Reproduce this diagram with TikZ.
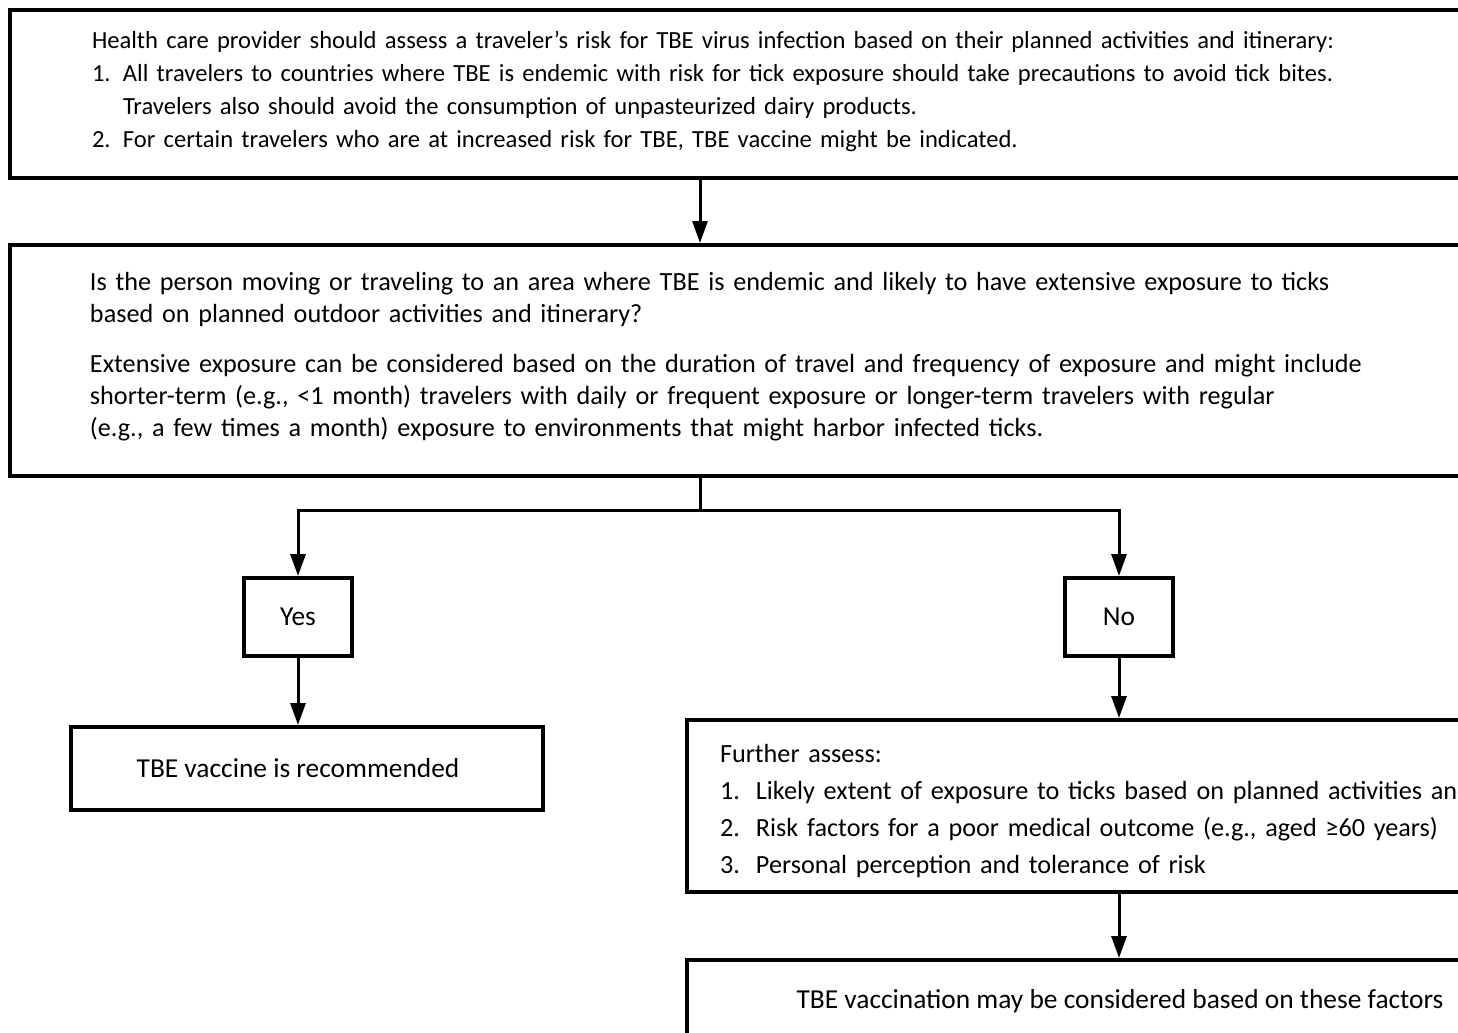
\documentclass[tikz,border=0pt]{standalone}
\usepackage{fontspec}
\setmainfont{Carlito}
\usepackage{tikz}
\usetikzlibrary{arrows.meta, positioning, calc}

\begin{document}
\begin{tikzpicture}[
                x=0.5pt, y=-0.5pt,
                box/.style={rectangle, draw=black, line width=2pt, anchor=north west, inner ysep=0pt, font=\fontsize{13.7}{16.5}\selectfont},
                textbox/.style={box, align=left, inner xsep=#1},
                choice/.style={box, minimum width=54pt, minimum height=39pt},
                arrow/.style={line width=1.5pt, -{Triangle[length=11pt, width=7.5pt]}},
                line/.style={line width=1.5pt}
            ]%
            \useasboundingbox (0,0) rectangle (1458,1033);
            \clip (0,0) rectangle (1458,1033);
            %
            % Evaluacion inicial
            \node[textbox=41pt, text width=654pt, minimum height=84pt, font=\fontsize{12.3}{16.5}\selectfont] (assess) at (8,8) {%
                Health care provider should assess a traveler’s risk for TBE virus infection based on their planned activities and itinerary:\\
                \makebox[15.5pt][l]{1.}All travelers to countries where TBE is endemic with risk for tick exposure should take precautions to avoid tick bites.\\
                \hspace*{15.5pt}Travelers also should avoid the consumption of unpasteurized dairy products.\\
                \makebox[15.5pt][l]{2.}For certain travelers who are at increased risk for TBE, TBE vaccine might be indicated.\rule[-5pt]{0pt}{1pt}};
            %
            % Pregunta
            \node[textbox=40pt, text width=656pt, minimum height=115.5pt, font=\fontsize{13.1}{16}\selectfont] (question) at (8,243) {%
                Is the person moving or traveling to an area where TBE is endemic and likely to have extensive exposure to ticks\\
                based on planned outdoor activities and itinerary?\\[9pt]
                Extensive exposure can be considered based on the duration of travel and frequency of exposure and might include\\
                shorter-term (e.g., <1 month) travelers with daily or frequent exposure or longer-term travelers with regular\\
                (e.g., a few times a month) exposure to environments that might harbor infected ticks.\rule[-6pt]{0pt}{1pt}};
            %
            % Respuestas
            \node[choice] (yes) at (242,576) {Yes};
            \node[choice] (no) at (1063,576) {No};
            %
            % Resultados
            \node[box, minimum width=236pt, minimum height=41.5pt] (rec) at (69,725) {TBE vaccine is recommended\hspace*{9pt}};
            \node[textbox=16.5pt, text width=533pt, minimum height=86pt, font=\fontsize{13.1}{18.5}\selectfont] (further) at (685,718) {%
                \rule{0pt}{14pt}Further assess:\\
                \makebox[18pt][l]{1.}Likely extent of exposure to ticks based on planned activities and itinerary\\
                \makebox[18pt][l]{2.}Risk factors for a poor medical outcome (e.g., aged ≥60 years)\\
                \makebox[18pt][l]{3.}Personal perception and tolerance of risk};
            \node[box, minimum width=433pt, minimum height=41pt] (final) at (685,958) {TBE vaccination may be considered based on these factors};
            %
            % Conexiones
            \coordinate (split) at (700,510);
            \draw[arrow] (split |- assess.south) -- (split |- question.north);
            \draw[line] (split |- question.south) -- (split);
            \draw[arrow] (split) -| (yes);
            \draw[arrow] (split) -| (no);
            \draw[arrow] (yes.south) -- (yes.south |- rec.north);
            \draw[arrow] (no.south) -- (no.south |- further.north);
            \draw[arrow] (no.south |- further.south) -- (no.south |- final.north);
        \end{tikzpicture}
\end{document}
